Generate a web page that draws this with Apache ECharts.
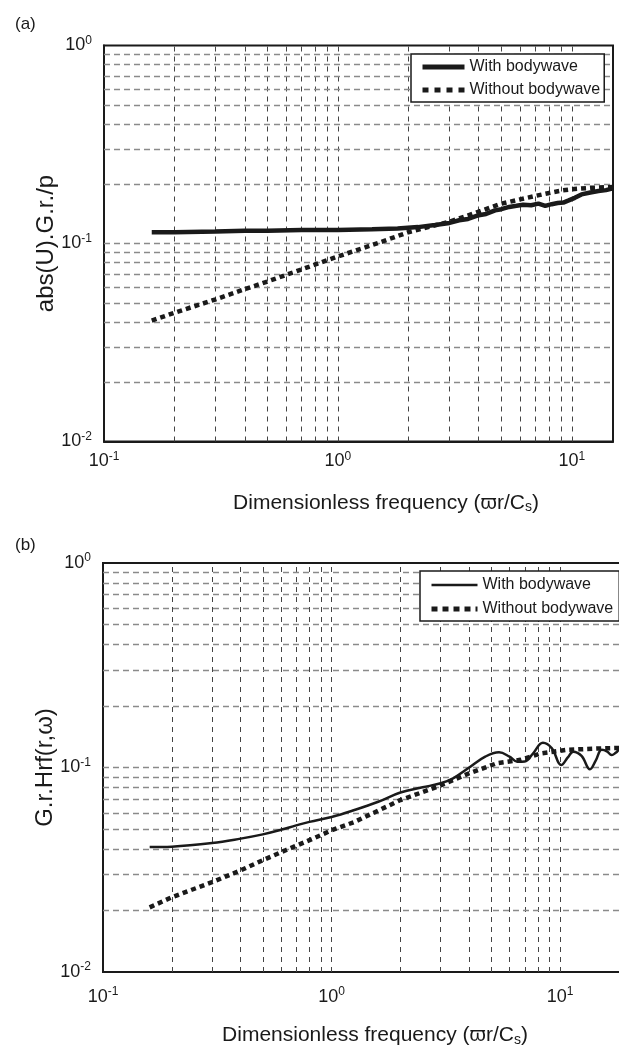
<!DOCTYPE html>
<html><head><meta charset="utf-8">
<script src="https://cdn.jsdelivr.net/npm/echarts@6/dist/echarts.min.js"></script>
<style>html,body{margin:0;padding:0;background:#fff}#c{width:619px;height:1045px}</style>
</head><body><div id="c"></div>
<script>
// ---- data ----
const panelLabels = ['(a)', '(b)'];
const legendNames = ['With bodywave', 'Without bodywave'];
const xTitleMain = 'Dimensionless frequency (\u03D6r/C';
const xTitleSub = 's';
const yTitleA = 'abs(U).G.r./p';
const yTitleB = 'G.r.Hrf(r,\u03C9)';

// panel (a)
const xA_with = [0.16, 0.2, 0.3, 0.4, 0.5, 0.7, 1.0, 1.4, 1.8, 2.2, 2.6, 3.0, 3.3, 3.6, 4.0, 4.3, 4.7, 5.0, 5.4, 5.8, 6.2, 6.7, 7.2, 7.7, 8.2, 8.7, 9.2, 9.7, 10.3, 11, 12, 13, 14, 15];
const yA_with = [0.114, 0.114, 0.115, 0.116, 0.116, 0.117, 0.117, 0.118, 0.119, 0.121, 0.124, 0.127, 0.131, 0.133, 0.139, 0.141, 0.147, 0.149, 0.153, 0.155, 0.157, 0.156, 0.159, 0.155, 0.158, 0.160, 0.161, 0.165, 0.170, 0.177, 0.181, 0.184, 0.186, 0.190];
const xA_without = [0.16, 0.2, 0.3, 0.4, 0.5, 0.7, 1.0, 1.5, 2.0, 2.5, 3.0, 3.5, 4.0, 5.0, 6.0, 7.0, 8.0, 9.0, 10, 12, 15];
const yA_without = [0.0408, 0.0447, 0.0522, 0.0588, 0.0643, 0.0740, 0.0860, 0.101, 0.114, 0.122, 0.129, 0.137, 0.145, 0.159, 0.167, 0.174, 0.180, 0.185, 0.188, 0.191, 0.193];

// panel (b)
const xB_with = [0.16, 0.2, 0.3, 0.4, 0.5, 0.6, 0.7, 0.8, 1.0, 1.25, 1.6, 2.0, 2.5, 3.0, 3.4, 4.0, 4.7, 5.4, 6.0, 6.5, 7.0, 7.6, 8.4, 9.2, 10.1, 10.8, 11.4, 12.4, 13.5, 14.3, 15.2, 16.0, 16.8, 17.5, 18.5, 20];
const yB_with = [0.0408, 0.041, 0.0427, 0.0449, 0.0471, 0.0496, 0.0521, 0.0542, 0.0573, 0.0618, 0.068, 0.0755, 0.080, 0.0837, 0.0885, 0.100, 0.113, 0.1186, 0.113, 0.1067, 0.107, 0.117, 0.132, 0.124, 0.1028, 0.112, 0.1195, 0.114, 0.098, 0.108, 0.122, 0.120, 0.115, 0.118, 0.124, 0.120];
const xB_without = [0.16, 0.2, 0.3, 0.4, 0.5, 0.63, 0.83, 1.0, 1.26, 2.0, 2.9, 4.0, 5.3, 6.7, 8.2, 10.7, 15, 20];
const yB_without = [0.0207, 0.0232, 0.0275, 0.0314, 0.0352, 0.0394, 0.0449, 0.0493, 0.0542, 0.0693, 0.0805, 0.0937, 0.105, 0.109, 0.117, 0.122, 0.124, 0.125];

// grid line values (axis values of minor/major log ticks)
const xGridVals = [0.2, 0.3, 0.4, 0.5, 0.6, 0.7, 0.8, 0.9, 1, 2, 3, 4, 5, 6, 7, 8, 9, 10];
const yGridVals = [0.02, 0.03, 0.04, 0.05, 0.06, 0.07, 0.08, 0.09, 0.1, 0.2, 0.3, 0.4, 0.5, 0.6, 0.7, 0.8, 0.9];
const xRangeA = [0.1, 15];
const xRangeB = [0.1, 20];
const yRange = [0.01, 1];

// ---- chart ----
const FONT = '"Liberation Sans", Arial, Helvetica, sans-serif';
const INK = '#1a1a1a';
const zip = (xs, ys) => xs.map((x, i) => [x, ys[i]]);

function powLabel(v) {
  const l = Math.log10(v);
  const e = Math.round(l);
  if (Math.abs(l - e) > 1e-6) return '';
  return '{b|10}{s|' + e + '}';
}
const tickRich = {
  b: { fontSize: 18, fontFamily: FONT, color: INK },
  s: { fontSize: 12, fontFamily: FONT, color: INK, padding: [0, 0, 10, 0] }
};
const nameRich = {
  t: { fontSize: 21, fontFamily: FONT, color: INK },
  sub: { fontSize: 14, fontFamily: FONT, color: INK, padding: [9, 0, 0, 0] }
};

function xAxisDef(gi, range, gap, margin, padL) {
  return {
    type: 'log', logBase: 10, gridIndex: gi, min: range[0], max: range[1], splitNumber: 2,
    axisLine: { show: true, lineStyle: { color: INK, width: 2 } },
    axisTick: { show: false }, splitLine: { show: false }, minorTick: { show: false },
    axisLabel: { formatter: powLabel, rich: tickRich, margin: margin, showMaxLabel: false },
    name: '{t|' + xTitleMain + '}{sub|' + xTitleSub + '}{t|)}',
    nameLocation: 'middle', nameGap: gap, nameMoveOverlap: false,
    nameTextStyle: { rich: nameRich, padding: [0, 0, 0, padL] }
  };
}
function yAxisDef(gi, title, gap) {
  return {
    type: 'log', logBase: 10, gridIndex: gi, min: yRange[0], max: yRange[1], splitNumber: 2,
    axisLine: { show: true, lineStyle: { color: INK, width: 2 } },
    axisTick: { show: false }, splitLine: { show: false },
    axisLabel: { formatter: powLabel, rich: tickRich, margin: 12 },
    name: title, nameLocation: 'middle', nameGap: gap, nameRotate: 90, nameMoveOverlap: false,
    nameTextStyle: { fontSize: 24, fontFamily: FONT, color: INK }
  };
}
function gridSeries(ax) {
  return {
    type: 'line', xAxisIndex: ax, yAxisIndex: ax, data: [], symbol: 'none', silent: true, z: 1,
    markLine: {
      z: 1, silent: true, symbol: ['none', 'none'], label: { show: false }, animation: false,
      data: xGridVals.map(v => ({ xAxis: v, lineStyle: { color: '#444', width: 1, type: [5, 5] } }))
        .concat(yGridVals.map(v => ({ yAxis: v, lineStyle: { color: '#8a8a8a', width: 1.3, type: [6, 4] } })))
    }
  };
}

const labelMap = { aWith: legendNames[0], aWithout: legendNames[1], bWith: legendNames[0], bWithout: legendNames[1] };
const hideSym = { opacity: 0 };

const option = {
  animation: false,
  backgroundColor: '#fff',
  textStyle: { fontFamily: FONT },
  title: [
    { text: panelLabels[0], left: 10, top: 11, textStyle: { fontSize: 17, fontWeight: 'normal', color: INK, fontFamily: FONT } },
    { text: panelLabels[1], left: 10, top: 532, textStyle: { fontSize: 17, fontWeight: 'normal', color: INK, fontFamily: FONT } }
  ],
  grid: [
    { left: 104, top: 45.5, width: 509, height: 396, show: true, borderColor: INK, borderWidth: 2, backgroundColor: 'transparent', outerBoundsMode: 'none', containLabel: false },
    { left: 103, top: 563, width: 526, height: 409, show: true, borderColor: INK, borderWidth: 2, backgroundColor: 'transparent', outerBoundsMode: 'none', containLabel: false }
  ],
  xAxis: [xAxisDef(0, xRangeA, 50, 9, 55), xAxisDef(1, xRangeB, 52, 14, 18)],
  yAxis: [yAxisDef(0, yTitleA, 46), yAxisDef(1, yTitleB, 46)],
  legend: [
    {
      z: 20, orient: 'vertical', left: 411, top: 54, padding: [5, 4, 4, 9], itemGap: 7, itemWidth: 42, itemHeight: 14,
      backgroundColor: '#fff', borderColor: INK, borderWidth: 1.5, borderRadius: 0,
      formatter: n => labelMap[n], textStyle: { fontSize: 16, lineHeight: 16, color: INK, fontFamily: FONT },
      selectedMode: false,
      data: [{ name: 'aWith', lineStyle: { width: 5 }, itemStyle: hideSym }, { name: 'aWithout', lineStyle: { width: 5, type: [6, 6] }, itemStyle: hideSym }]
    },
    {
      z: 20, orient: 'vertical', left: 420, top: 571, padding: [6, 6, 4, 9], itemGap: 8, itemWidth: 46, itemHeight: 14,
      backgroundColor: '#fff', borderColor: INK, borderWidth: 1.5, borderRadius: 0,
      formatter: n => labelMap[n], textStyle: { fontSize: 16, lineHeight: 16, color: INK, fontFamily: FONT },
      selectedMode: false,
      data: [{ name: 'bWith', lineStyle: { width: 2.5 }, itemStyle: hideSym }, { name: 'bWithout', lineStyle: { width: 5, type: [6, 5] }, itemStyle: hideSym }]
    }
  ],
  series: [
    gridSeries(0),
    gridSeries(1),
    { name: 'aWith', type: 'line', xAxisIndex: 0, yAxisIndex: 0, data: zip(xA_with, yA_with), symbol: 'none', z: 3,
      lineStyle: { color: INK, width: 4.5 }, itemStyle: { color: INK } },
    { name: 'aWithout', type: 'line', xAxisIndex: 0, yAxisIndex: 0, data: zip(xA_without, yA_without), symbol: 'none', z: 3,
      lineStyle: { color: INK, width: 4.5, type: [5, 4], cap: 'butt' }, itemStyle: { color: INK } },
    { name: 'bWith', type: 'line', xAxisIndex: 1, yAxisIndex: 1, data: zip(xB_with, yB_with), symbol: 'none', z: 3, smooth: 0.4,
      lineStyle: { color: INK, width: 2.5 }, itemStyle: { color: INK } },
    { name: 'bWithout', type: 'line', xAxisIndex: 1, yAxisIndex: 1, data: zip(xB_without, yB_without), symbol: 'none', z: 3,
      lineStyle: { color: INK, width: 4.5, type: [5, 4], cap: 'butt' }, itemStyle: { color: INK } }
  ]
};
const chart = echarts.init(document.getElementById('c'), null, { renderer: 'canvas' });
chart.setOption(option);
</script></body></html>
